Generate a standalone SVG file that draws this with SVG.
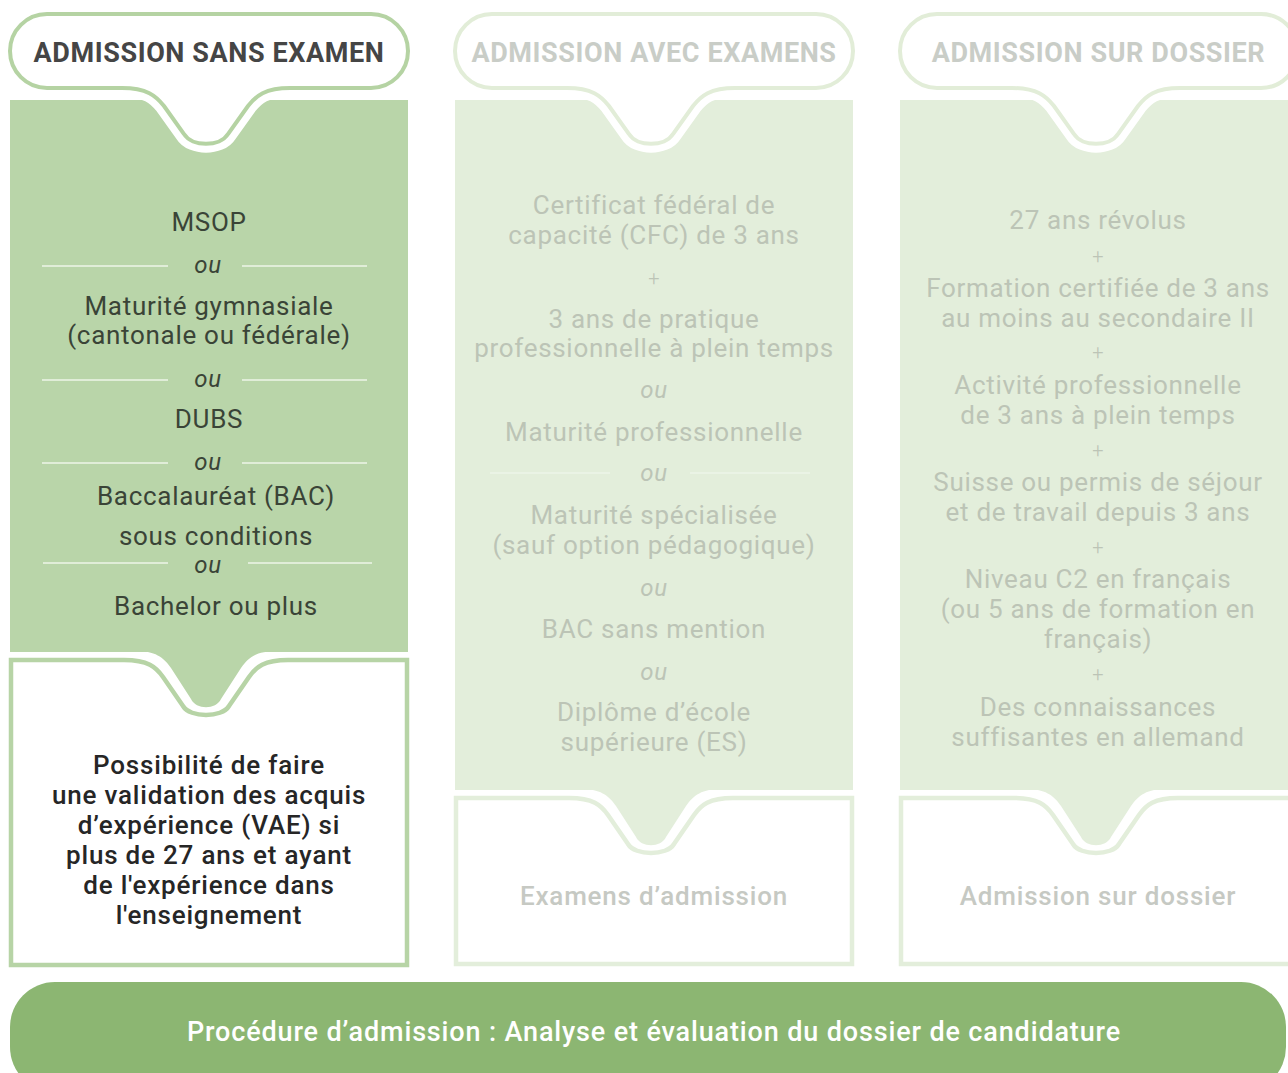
<svg xmlns="http://www.w3.org/2000/svg" width="1288" height="1073" viewBox="0 0 1288 1073">
<style>
  text { font-family: Roboto, "Liberation Sans", sans-serif; text-anchor: middle; }
  .hdr { font-size: 27px; font-weight: 700; letter-spacing: 0.6px; }
  .hdr1 { fill: #454545; }
  .hdrf { fill: #c9cdc7; }
  .item1 { font-size: 26px; fill: #3a4437; letter-spacing: 0.7px; }
  .ou1 { font-size: 24px; font-style: italic; fill: #3a4437; letter-spacing: 0.7px; }
  .itemf { font-size: 26px; fill: #bcc4b6; letter-spacing: 0.7px; }
  .ouf { font-size: 24px; font-style: italic; fill: #bcc4b6; letter-spacing: 0.7px; }
  .plus { font-size: 20px; fill: #bcc4b6; font-weight: 300; }
  .low1 { font-size: 26px; font-weight: 500; fill: #262626; letter-spacing: 0.8px; }
  .lowf { font-size: 26px; font-weight: 500; fill: #c6c9c3; letter-spacing: 0.8px; }
  .bar { font-size: 27px; font-weight: 500; fill: #ffffff; letter-spacing: 0.85px; }
  .sep1 { stroke: #eef5e9; stroke-width: 1.5; }
  .sepf { stroke: #edf4e8; stroke-width: 1.5; }
  .halo { fill: none; stroke: #ffffff; stroke-width: 18; }
  .pill1 { fill: #ffffff; stroke: #b5d3a3; stroke-width: 4; }
  .pillf { fill: #ffffff; stroke: #e2edd8; stroke-width: 4; }
  .g1 { fill: #b9d5a9; }
  .gf { fill: #e3eedb; }
  .box1 { fill: #ffffff; stroke: #b7d4a6; stroke-width: 4.5; }
  .boxf { fill: #ffffff; stroke: #e3eedb; stroke-width: 4.5; }
</style>
<defs>
  <path id="pill" d="M 37,14 H 361 A 37 37 0 0 1 361,88 H 280 C 255,88 246,96 238,106 L 218,134 C 210,147 182,147 174,134 L 154,106 C 146,96 137,88 112,88 H 37 A 37 37 0 0 1 37,14 Z"/>
  <path id="tail1" d="M 124,651 C 146,651 153,657 161,668 L 181,699 C 186,710 206,710 211,699 L 231,668 C 239,657 246,651 268,651 Z"/>
  <path id="tailf" d="M 124,789 C 146,789 153,795 161,806 L 181,837 C 186,848 206,848 211,837 L 231,806 C 239,795 246,789 268,789 Z"/>
</defs>

<!-- Column 1 -->
<g id="col1" transform="translate(10,0)">
  <g id="col1-box">
    <path class="box1" d="M 1,660 H 114 C 138,660 146,667 153,677 L 173,706 C 180,718 212,718 219,706 L 239,677 C 246,667 254,660 278,660 H 397 V 965 H 1 Z"/>
  </g>
  <g id="col1-green">
    <rect class="g1" x="0" y="100" width="398" height="552"/>
    <use href="#tail1" class="g1"/>
  </g>
  <g id="col1-header">
    <use href="#pill" class="halo"/>
    <use href="#pill" class="pill1"/>
    <text class="hdr hdr1" x="199" y="62">ADMISSION SANS EXAMEN</text>
  </g>
  <g id="col1-items">
    <text class="item1" x="199" y="231">MSOP</text>
    <line class="sep1" x1="32" y1="266" x2="158" y2="266"/>
    <line class="sep1" x1="232" y1="266" x2="357" y2="266"/>
    <text class="ou1" x="198" y="273">ou</text>
    <text class="item1" x="199" y="315">Maturité gymnasiale</text>
    <text class="item1" x="199" y="344">(cantonale ou fédérale)</text>
    <line class="sep1" x1="32" y1="380" x2="158" y2="380"/>
    <line class="sep1" x1="232" y1="380" x2="357" y2="380"/>
    <text class="ou1" x="198" y="387">ou</text>
    <text class="item1" x="199" y="428">DUBS</text>
    <line class="sep1" x1="32" y1="463" x2="158" y2="463"/>
    <line class="sep1" x1="232" y1="463" x2="357" y2="463"/>
    <text class="ou1" x="198" y="470">ou</text>
    <text class="item1" x="206" y="505">Baccalauréat (BAC)</text>
    <text class="item1" x="206" y="545">sous conditions</text>
    <line class="sep1" x1="33" y1="563" x2="158" y2="563"/>
    <line class="sep1" x1="238" y1="563" x2="362" y2="563"/>
    <text class="ou1" x="198" y="573">ou</text>
    <text class="item1" x="206" y="615">Bachelor ou plus</text>
  </g>
  <g id="col1-lower">
    <text class="low1" x="199" y="774">Possibilité de faire</text>
    <text class="low1" x="199" y="804">une validation des acquis</text>
    <text class="low1" x="199" y="834">d’expérience (VAE) si</text>
    <text class="low1" x="199" y="864">plus de 27 ans et ayant</text>
    <text class="low1" x="199" y="894">de l'expérience dans</text>
    <text class="low1" x="199" y="924">l'enseignement</text>
  </g>
</g>

<!-- Column 2 -->
<g id="col2" transform="translate(455,0)">
  <g id="col2-box">
    <path class="boxf" d="M 1,798 H 114 C 138,798 146,805 153,815 L 173,844 C 180,856 212,856 219,844 L 239,815 C 246,805 254,798 278,798 H 397 V 964 H 1 Z"/>
  </g>
  <g id="col2-green">
    <rect class="gf" x="0" y="100" width="398" height="690"/>
    <use href="#tailf" class="gf"/>
  </g>
  <g id="col2-header">
    <use href="#pill" class="halo"/>
    <use href="#pill" class="pillf"/>
    <text class="hdr hdrf" x="199" y="62">ADMISSION AVEC EXAMENS</text>
  </g>
  <g id="col2-items">
    <text class="itemf" x="199" y="214">Certificat fédéral de</text>
    <text class="itemf" x="199" y="244">capacité (CFC) de 3 ans</text>
    <text class="plus" x="199" y="285">+</text>
    <text class="itemf" x="199" y="328">3 ans de pratique</text>
    <text class="itemf" x="199" y="357">professionnelle à plein temps</text>
    <text class="ouf" x="199" y="398">ou</text>
    <text class="itemf" x="199" y="441">Maturité professionnelle</text>
    <line class="sepf" x1="35" y1="473" x2="155" y2="473"/>
    <line class="sepf" x1="235" y1="473" x2="355" y2="473"/>
    <text class="ouf" x="199" y="481">ou</text>
    <text class="itemf" x="199" y="524">Maturité spécialisée</text>
    <text class="itemf" x="199" y="554">(sauf option pédagogique)</text>
    <text class="ouf" x="199" y="596">ou</text>
    <text class="itemf" x="199" y="638">BAC sans mention</text>
    <text class="ouf" x="199" y="680">ou</text>
    <text class="itemf" x="199" y="721">Diplôme d’école</text>
    <text class="itemf" x="199" y="751">supérieure (ES)</text>
  </g>
  <g id="col2-lower">
    <text class="lowf" x="199" y="905">Examens d’admission</text>
  </g>
</g>

<!-- Column 3 -->
<g id="col3" transform="translate(900,0)">
  <g id="col3-box">
    <path class="boxf" d="M 1,798 H 114 C 138,798 146,805 153,815 L 173,844 C 180,856 212,856 219,844 L 239,815 C 246,805 254,798 278,798 H 397 V 964 H 1 Z"/>
  </g>
  <g id="col3-green">
    <rect class="gf" x="0" y="100" width="398" height="690"/>
    <use href="#tailf" class="gf"/>
  </g>
  <g id="col3-header">
    <use href="#pill" class="halo"/>
    <use href="#pill" class="pillf"/>
    <text class="hdr hdrf" x="198.5" y="62">ADMISSION SUR DOSSIER</text>
  </g>
  <g id="col3-items">
    <text class="itemf" x="198" y="229">27 ans révolus</text>
    <text class="plus" x="198" y="263">+</text>
    <text class="itemf" x="198" y="297">Formation certifiée de 3 ans</text>
    <text class="itemf" x="198" y="327">au moins au secondaire II</text>
    <text class="plus" x="198" y="359">+</text>
    <text class="itemf" x="198" y="394">Activité professionnelle</text>
    <text class="itemf" x="198" y="424">de 3 ans à plein temps</text>
    <text class="plus" x="198" y="457">+</text>
    <text class="itemf" x="198" y="491">Suisse ou permis de séjour</text>
    <text class="itemf" x="198" y="521">et de travail depuis 3 ans</text>
    <text class="plus" x="198" y="554">+</text>
    <text class="itemf" x="198" y="588">Niveau C2 en français</text>
    <text class="itemf" x="198" y="618">(ou 5 ans de formation en</text>
    <text class="itemf" x="198" y="648">français)</text>
    <text class="plus" x="198" y="681">+</text>
    <text class="itemf" x="198" y="716">Des connaissances</text>
    <text class="itemf" x="198" y="746">suffisantes en allemand</text>
  </g>
  <g id="col3-lower">
    <text class="lowf" x="198" y="905">Admission sur dossier</text>
  </g>
</g>

<g id="connectors"></g>

<!-- Bottom bar -->
<g id="procedure">
  <rect x="10" y="982" width="1276" height="110" rx="45" ry="45" fill="#8cb672"/>
  <text class="bar" x="654" y="1041">Procédure d’admission : Analyse et évaluation du dossier de candidature</text>
</g>
</svg>
